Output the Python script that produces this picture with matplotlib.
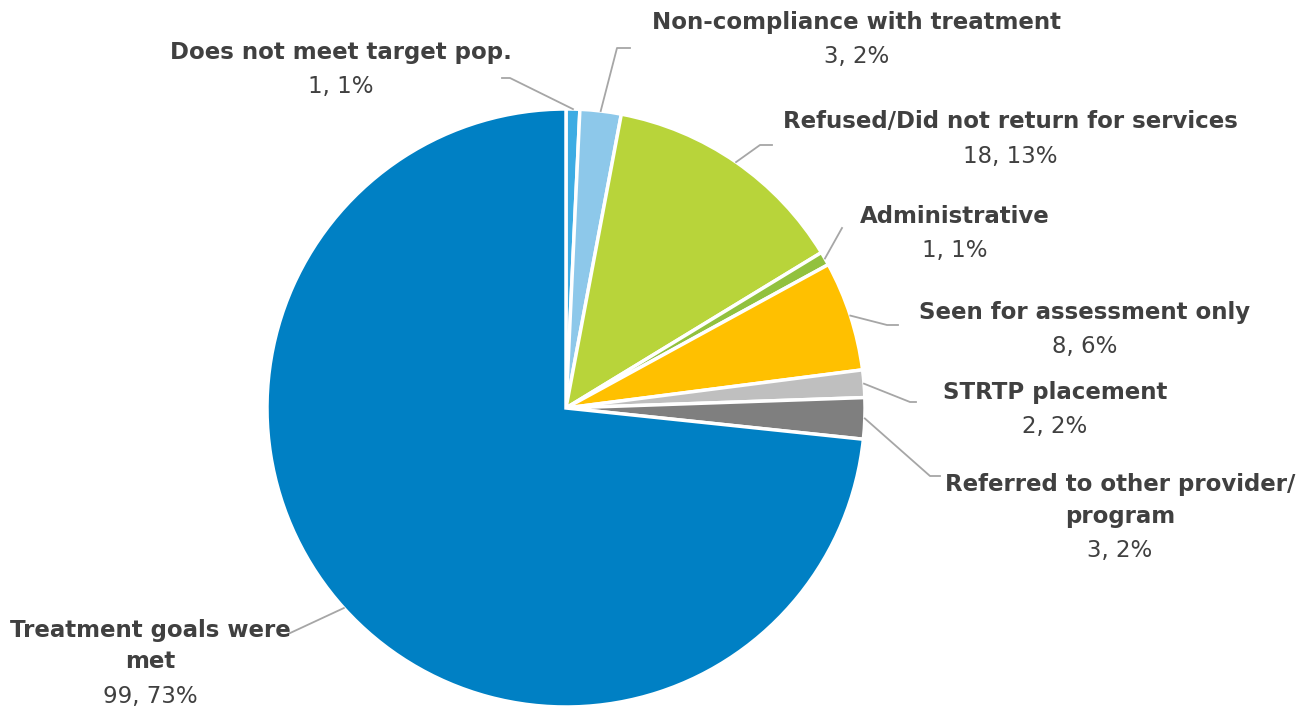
import numpy as np
import matplotlib.pyplot as plt
from matplotlib.lines import Line2D

categories = ["Does not meet target pop.", "Non-compliance with treatment",
              "Refused/Did not return for services", "Administrative",
              "Seen for assessment only", "STRTP placement",
              "Referred to other provider/\nprogram", "Treatment goals were\nmet"]
counts = [1, 3, 18, 1, 8, 2, 3, 99]
pct_labels = ["1%", "2%", "13%", "1%", "6%", "2%", "2%", "73%"]
colors = ["#3DACE3", "#8DC8EA", "#B8D43A", "#92C13E", "#FFC000",
          "#BFBFBF", "#7F7F7F", "#0080C4"]

# label centre (px), elbow points (px) for leader lines
label_pos = [(341, 52), (857, 23), (1010, 122), (955, 216),
             (1085, 313), (1055, 393), (1120, 485), (150, 630)]
elbows = [[(510, 78), (502, 78)], [(617, 48), (630, 48)],
          [(760, 145), (772, 145)], [(842, 228)],
          [(887, 325), (898, 325)], [(910, 402), (916, 402)],
          [(930, 476), (940, 476)], [(288, 634)]]

W, H = 1302, 708
fig = plt.figure(figsize=(W / 100, H / 100), dpi=100)
plt.rcParams['font.family'] = ['DejaVu Sans']

cx, cy, r = 566, 408, 299
pad = 1.03
ax = fig.add_axes([(cx - r * pad) / W, (H - cy - r * pad) / H,
                   2 * r * pad / W, 2 * r * pad / H])
wedges, _ = ax.pie(counts, colors=colors, startangle=90, counterclock=False,
                   wedgeprops=dict(edgecolor="white", linewidth=2.5))
ax.set_xlim(-pad, pad)
ax.set_ylim(-pad, pad)
ax.set_aspect("auto")


def px(x, y):
    return x / W, 1 - y / H


to_fig = ax.transData + fig.transFigure.inverted()
line_col = "#A6A6A6"
txt_col = "#404040"

for i, w in enumerate(wedges):
    mid = np.deg2rad((w.theta1 + w.theta2) / 2)
    start = to_fig.transform((np.cos(mid), np.sin(mid)))
    pts = [tuple(start)] + [px(*p) for p in elbows[i]]
    xs, ys = zip(*pts)
    fig.add_artist(Line2D(xs, ys, color=line_col, lw=1.3, transform=fig.transFigure))

    lx, ly = label_pos[i]
    lines = categories[i].split("\n")
    for k, t in enumerate(lines):
        fig.text(*px(lx, ly + 32 * k), t, ha="center", va="center",
                 fontsize=16.5, fontweight="bold", color=txt_col)
    fig.text(*px(lx, ly + 32 * len(lines) + 2), f"{counts[i]}, {pct_labels[i]}",
             ha="center", va="center", fontsize=16.5, color=txt_col)

fig.savefig("out.png", dpi=100)
